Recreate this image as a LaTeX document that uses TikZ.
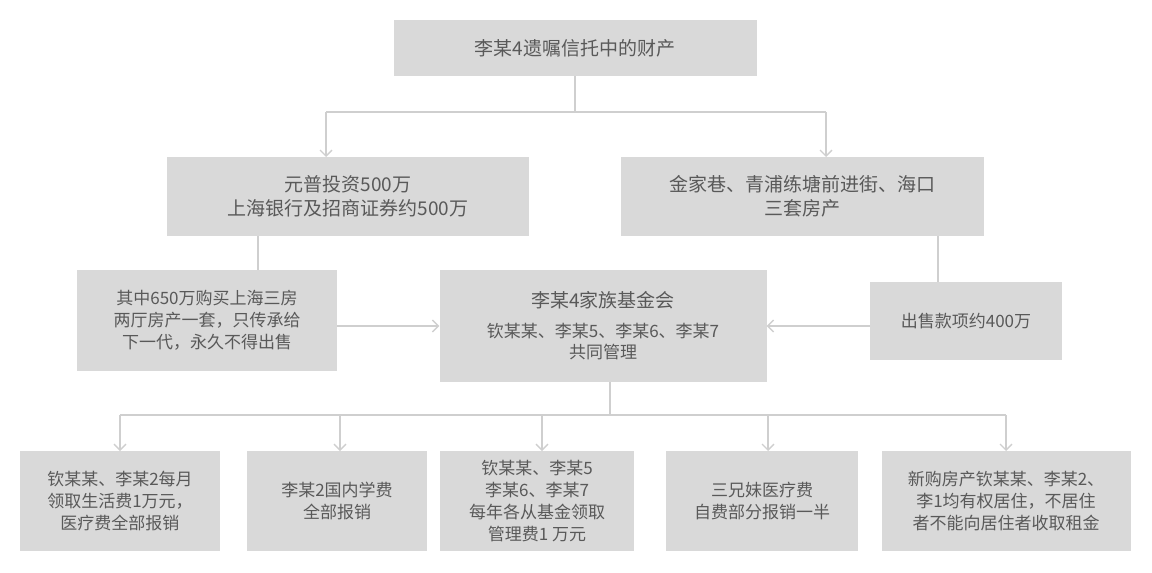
\documentclass[tikz,border=0pt]{standalone}
\usepackage{fontspec}
\setmainfont{Noto Sans CJK SC}
\usetikzlibrary{positioning,arrows.meta}
\definecolor{boxgray}{HTML}{D9D9D9}
\definecolor{txtgray}{HTML}{595959}
\definecolor{linegray}{HTML}{CFCFCF}
\begin{document}
\begin{tikzpicture}[x=1pt,y=-1pt,
  box/.style={fill=boxgray,text=txtgray,align=center,inner sep=0pt,font=\fontsize{19}{24}\selectfont},
  small/.style={box,font=\fontsize{17}{22}\selectfont},
  link/.style={draw=linegray,line width=1.3pt},
  arr/.style={link,-{Straight Barb[length=6pt,width=12pt]}}]
  \useasboundingbox (0,0) rectangle (1152,573);
  \node[box,minimum width=363pt,minimum height=56pt] (top) at (575,48) {李某4遗嘱信托中的财产};
  \node[box,minimum width=362pt,minimum height=79pt] (money) at (348,196) {元普投资500万\\上海银行及招商证券约500万};
  \node[box,minimum width=363pt,minimum height=79pt] (house) at (802,196) {金家巷、青浦练塘前进街、海口\\三套房产};
  \node[small,minimum width=260pt,minimum height=101pt] (buy) at (207,320) {其中650万购买上海三房\\两厅房产一套，只传承给\\下一代，永久不得出售};
  \node[box,minimum width=327pt,minimum height=112pt] (fund) at (603,326) {李某4家族基金会\\[6pt]{\fontsize{17}{22}\selectfont 钦某某、李某5、李某6、李某7}\\[-3pt]{\fontsize{17}{22}\selectfont 共同管理}};
  \node[small,minimum width=192pt,minimum height=78pt] (sale) at (966,321) {出售款项约400万};
  \node[small,minimum width=200pt,minimum height=100pt] (b1) at (120,501) {钦某某、李某2每月\\领取生活费1万元，\\医疗费全部报销};
  \node[small,minimum width=180pt,minimum height=100pt] (b2) at (337,501) {李某2国内学费\\全部报销};
  \node[small,minimum width=194pt,minimum height=100pt] (b3) at (537,501) {钦某某、李某5\\李某6、李某7\\每年各从基金领取\\管理费1 万元};
  \node[small,minimum width=192pt,minimum height=100pt] (b4) at (762,501) {三兄妹医疗费\\自费部分报销一半};
  \node[small,minimum width=249pt,minimum height=100pt] (b5) at (1006,501) {新购房产钦某某、李某2、\\李1均有权居住，不居住\\者不能向居住者收取租金};

  \coordinate (split1) at (575,112);
  \coordinate (split2) at (610,415);
  \draw[link] (top.south) -- (split1);
  \draw[link] (326,112) -- (826,112);
  \draw[arr] (326,112) -- (326,157);
  \draw[arr] (826,112) -- (826,157);
  \draw[link] (258,236) -- (258,270);
  \draw[link] (938,236) -- (938,282);
  \draw[arr] (buy.east |- fund.west) -- (fund.west);
  \draw[arr] (sale.west |- fund.east) -- (fund.east);
  \draw[link] (610,382) -- (split2);
  \draw[link] (120,415) -- (1006,415);
  \foreach \x in {120,340,542,768,1006}
    \draw[arr] (\x,415) -- (\x,451);
\end{tikzpicture}
\end{document}
